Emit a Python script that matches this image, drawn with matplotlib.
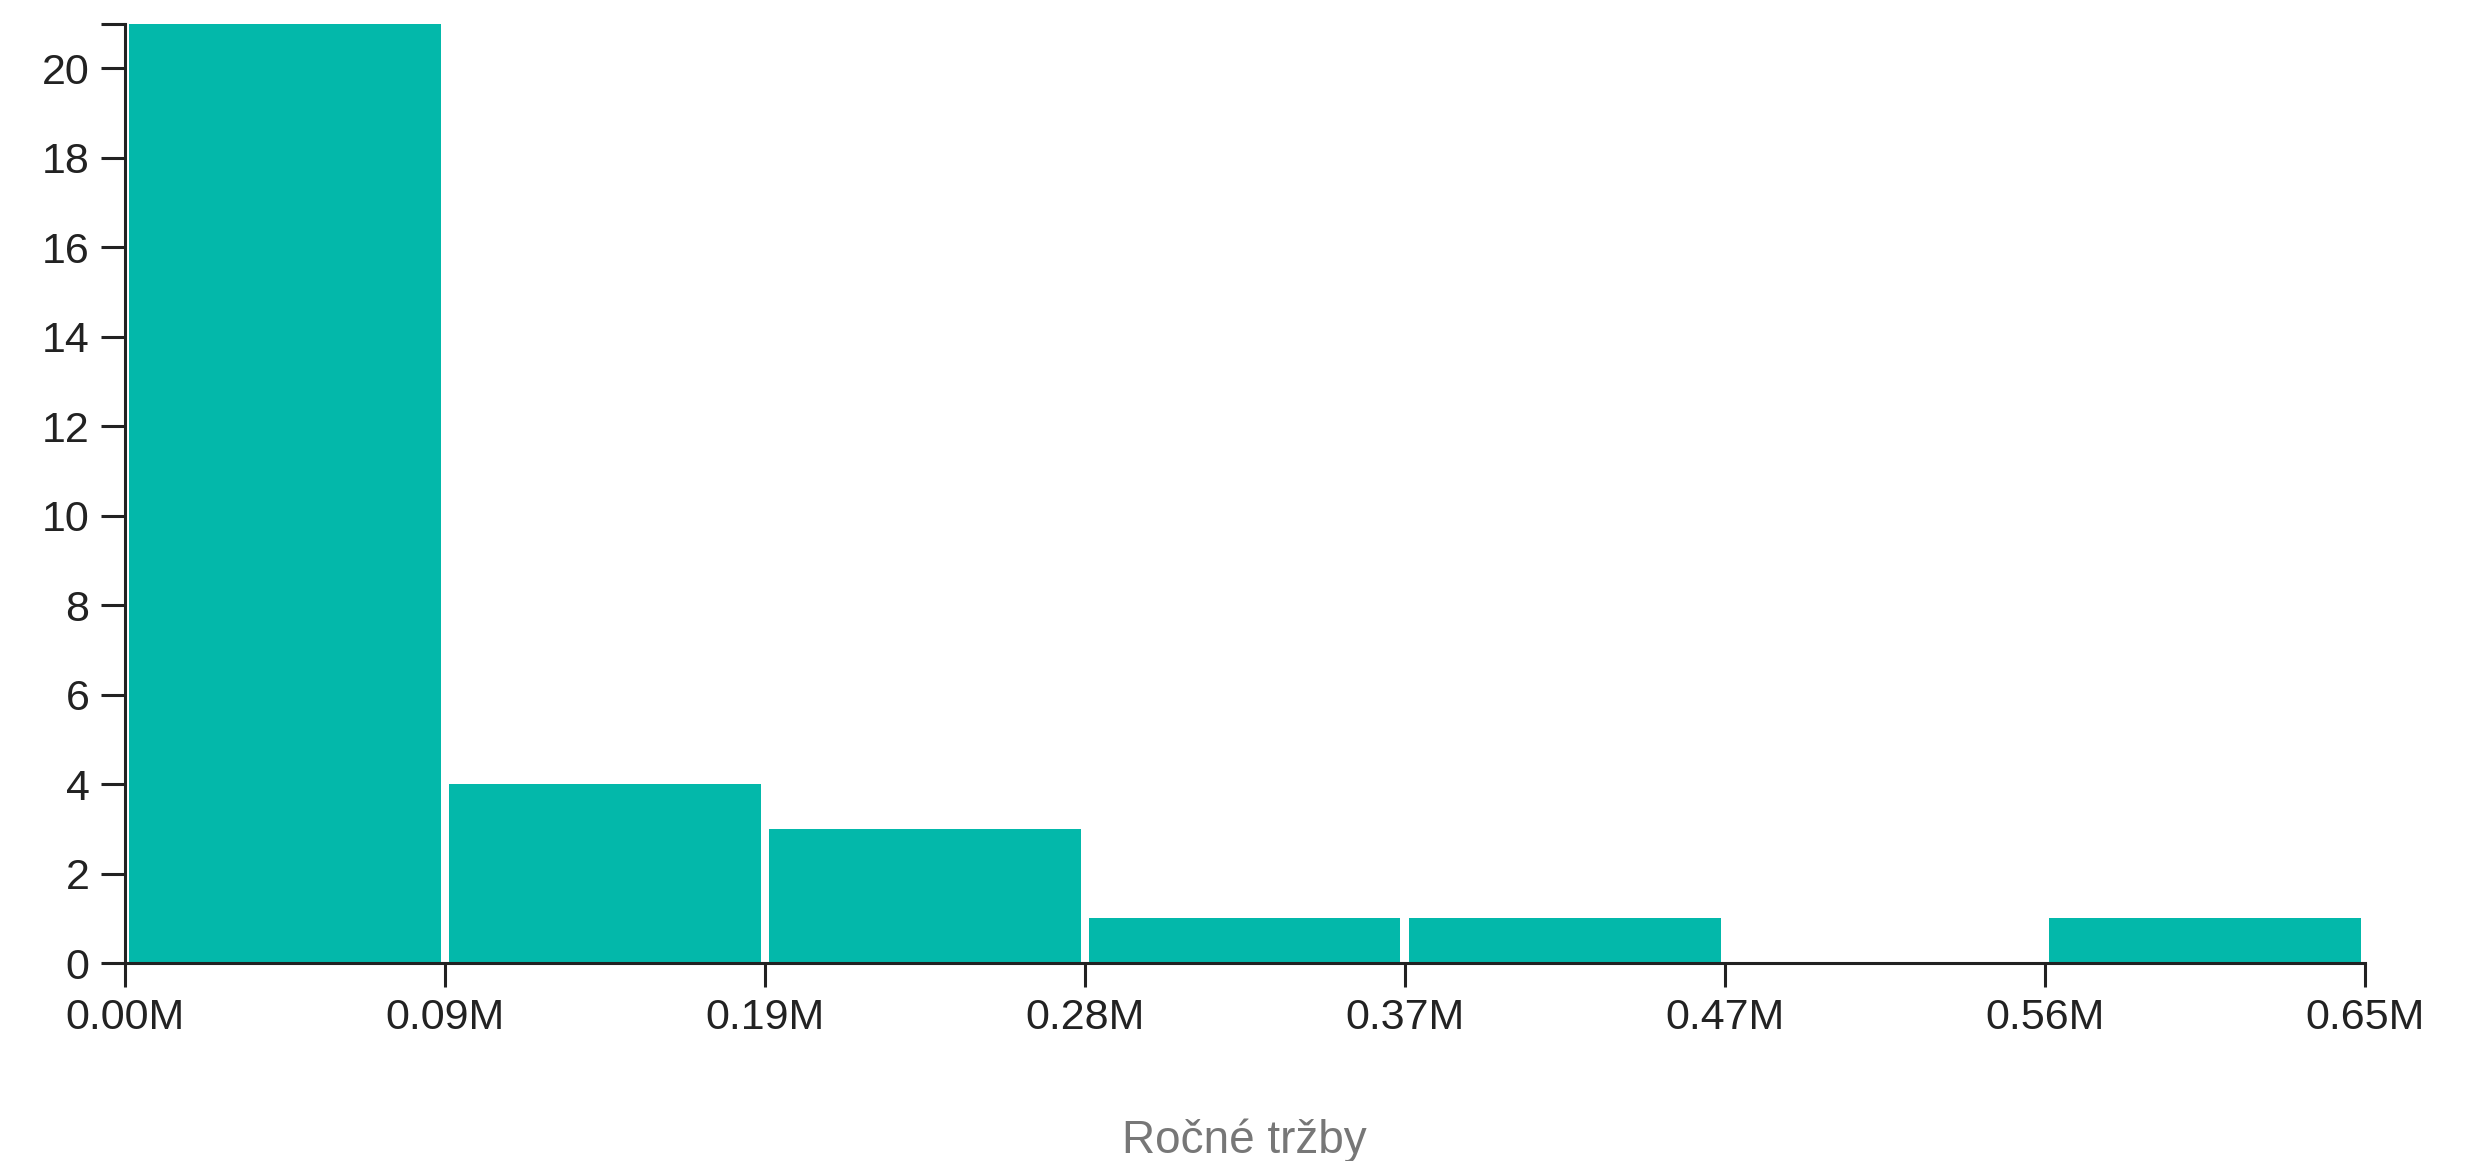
import matplotlib
matplotlib.use("Agg")
import matplotlib.pyplot as plt
import numpy as np

# Data (revenue in millions)
bin_edges = [0.0, 0.0933, 0.1866, 0.2799, 0.3731, 0.4664, 0.5597, 0.6530]
counts = [21, 4, 3, 1, 1, 0, 1]
y_ticks = [0, 2, 4, 6, 8, 10, 12, 14, 16, 18, 20]
x_label = "Ročné tržby"

plt.rcParams['font.family'] = ['Liberation Sans', 'DejaVu Sans']

fig = plt.figure(figsize=(12.36, 5.805), dpi=200)
ax = fig.add_axes([0.0504, 0.1705, 0.9063, 0.8092])

edges = np.array(bin_edges)
widths = np.diff(edges)
centers = edges[:-1] + widths / 2
ax.bar(centers, counts, width=widths * 0.974, align='center',
       color='#03b8aa', linewidth=0, zorder=1)

ax.set_xlim(edges[0], edges[-1])
ax.set_ylim(0, max(counts))

ax.set_xticks(edges)
ax.set_xticklabels([f"{v:.2f}M" for v in edges])
ax.set_yticks(y_ticks + [max(counts)])
ax.set_yticklabels([str(v) for v in y_ticks] + [""])

for s in ['top', 'right']:
    ax.spines[s].set_visible(False)
for s in ['left', 'bottom']:
    ax.spines[s].set_color('#222222')
    ax.spines[s].set_linewidth(1.1)
    ax.spines[s].set_zorder(3)

ax.tick_params(axis='both', length=8.6, width=1.1, color='#222222',
               labelsize=15.5, labelcolor='#222222', pad=4)

ax.set_xlabel(x_label, fontsize=16.5, color='#777777', labelpad=29)

fig.savefig("out.png", dpi=200, facecolor='white')
